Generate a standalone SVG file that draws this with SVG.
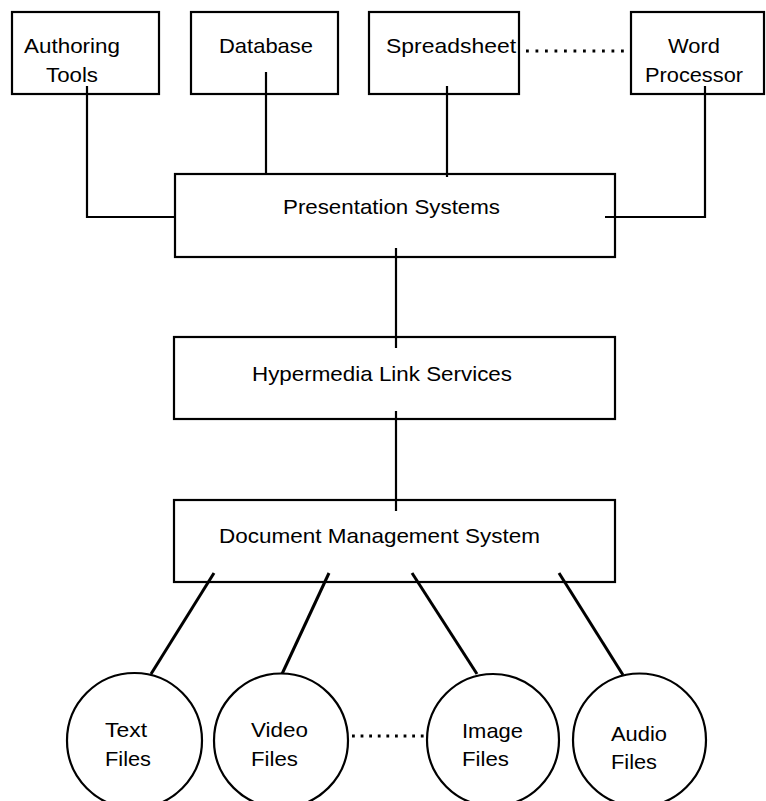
<svg xmlns="http://www.w3.org/2000/svg" width="766" height="801" viewBox="0 0 766 801">
<style>
.box{fill:none;stroke:#000;stroke-width:2.2}
.circ{fill:#fff;stroke:#000;stroke-width:2.2}
.t{font-family:"Liberation Sans",Arial,sans-serif;font-size:21px;fill:#000}
.ln{fill:none;stroke:#000;stroke-width:2.2}
.dg{fill:none;stroke:#000;stroke-width:3}
.dot{fill:none;stroke:#000;stroke-width:2.8}
</style>
<rect width="766" height="801" fill="#fff"/>
<g id="connectors">
<polyline class="ln" points="87,86 87,217 176,217"/>
<line class="ln" x1="266" y1="72" x2="266" y2="175"/>
<line class="ln" x1="447" y1="86" x2="447" y2="177"/>
<polyline class="ln" points="705,86 705,217 605,217"/>
<line class="ln" x1="396" y1="248" x2="396" y2="348"/>
<line class="ln" x1="396" y1="411" x2="396" y2="511"/>
<line class="dg" x1="214" y1="573" x2="151" y2="674"/>
<line class="dg" x1="329" y1="573" x2="282" y2="674"/>
<line class="dg" x1="412" y1="573" x2="477" y2="674"/>
<line class="dg" x1="559" y1="573" x2="623" y2="675"/>
<line class="dot" x1="526" y1="51" x2="624" y2="51" stroke-dasharray="2.8 6.7"/>
<line class="dot" x1="352" y1="736" x2="424" y2="736" stroke-dasharray="2.8 5.8"/>
</g>
<g id="authoring">
<rect class="box" x="12" y="12" width="147" height="82"/>
<text class="t" x="24" y="53" textLength="96" lengthAdjust="spacingAndGlyphs">Authoring</text>
<text class="t" x="46" y="82" textLength="52" lengthAdjust="spacingAndGlyphs">Tools</text>
</g>
<g id="database">
<rect class="box" x="191" y="12" width="147" height="82"/>
<text class="t" x="219" y="53" textLength="94" lengthAdjust="spacingAndGlyphs">Database</text>
</g>
<g id="spreadsheet">
<rect class="box" x="369" y="12" width="150" height="82"/>
<text class="t" x="386" y="53" textLength="130" lengthAdjust="spacingAndGlyphs">Spreadsheet</text>
</g>
<g id="wordprocessor">
<rect class="box" x="631" y="12" width="133" height="82"/>
<text class="t" x="668" y="53" textLength="52" lengthAdjust="spacingAndGlyphs">Word</text>
<text class="t" x="645" y="82" textLength="98" lengthAdjust="spacingAndGlyphs">Processor</text>
</g>
<g id="presentation">
<rect class="box" x="175" y="174" width="440" height="83"/>
<text class="t" x="283" y="214" textLength="217" lengthAdjust="spacingAndGlyphs">Presentation Systems</text>
</g>
<g id="hypermedia">
<rect class="box" x="174" y="337" width="441" height="82"/>
<text class="t" x="252" y="381" textLength="260" lengthAdjust="spacingAndGlyphs">Hypermedia Link Services</text>
</g>
<g id="document">
<rect class="box" x="174" y="500" width="441" height="82"/>
<text class="t" x="219" y="543" textLength="321" lengthAdjust="spacingAndGlyphs">Document Management System</text>
</g>
<g id="textfiles">
<circle class="circ" cx="134.5" cy="740.5" r="67.5"/>
<text class="t" x="105" y="737" textLength="42" lengthAdjust="spacingAndGlyphs">Text</text>
<text class="t" x="105" y="766" textLength="46" lengthAdjust="spacingAndGlyphs">Files</text>
</g>
<g id="videofiles">
<circle class="circ" cx="281" cy="740.5" r="67"/>
<text class="t" x="251" y="737" textLength="57" lengthAdjust="spacingAndGlyphs">Video</text>
<text class="t" x="251" y="766" textLength="47" lengthAdjust="spacingAndGlyphs">Files</text>
</g>
<g id="imagefiles">
<circle class="circ" cx="493" cy="740" r="66"/>
<text class="t" x="462" y="738" textLength="61" lengthAdjust="spacingAndGlyphs">Image</text>
<text class="t" x="462" y="766" textLength="47" lengthAdjust="spacingAndGlyphs">Files</text>
</g>
<g id="audiofiles">
<circle class="circ" cx="639.5" cy="740" r="66.5"/>
<text class="t" x="611" y="741" textLength="56" lengthAdjust="spacingAndGlyphs">Audio</text>
<text class="t" x="611" y="769" textLength="46" lengthAdjust="spacingAndGlyphs">Files</text>
</g>
</svg>
